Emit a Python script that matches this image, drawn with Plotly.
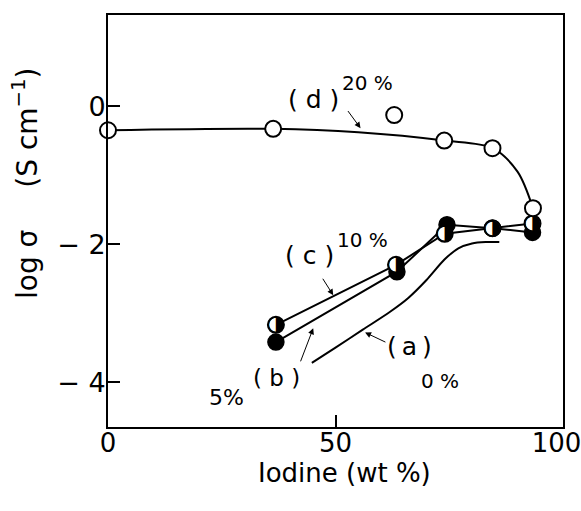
import plotly.graph_objects as go

# ---- data ----
# (d) 20 % : open circles
d_x = [0, 36.3, 62.9, 73.9, 84.5, 93.4]
d_y = [-0.35, -0.33, -0.13, -0.50, -0.61, -1.48]
# smooth curve drawn through (d)
d_curve_x = [0, 36.3, 55, 73.9, 84.5, 90.0, 93.4]
d_curve_y = [-0.35, -0.33, -0.38, -0.50, -0.61, -0.95, -1.48]

# (c) 10 % : half-filled circles
c_x = [36.9, 63.3, 74.0, 84.5, 93.3]
c_y = [-3.17, -2.30, -1.85, -1.77, -1.70]

# (b) 5 % : filled circles
b_x = [36.9, 63.5, 74.5, 84.5, 93.3]
b_y = [-3.42, -2.40, -1.72, -1.77, -1.83]

# (a) 0 % : curve only
a_x = [44.8, 50, 56, 62, 66, 70, 74, 77, 80, 83, 86]
a_y = [-3.72, -3.50, -3.24, -2.98, -2.78, -2.52, -2.22, -2.06, -1.99, -1.97, -1.97]

x_ticks = [0, 50, 100]
x_ticklabels = ["0", "50", "100\u2002"]
y_ticks = [0, -2, -4]
y_ticklabels = ["0", "\u2212 2", "\u2212 4"]

FONT = "DejaVu Sans, Liberation Sans, sans-serif"
BLACK = "black"

fig = go.Figure()

# curve (a)
fig.add_trace(go.Scatter(x=a_x, y=a_y, mode="lines", line=dict(color=BLACK, width=2, shape="spline", smoothing=0.8),
                         hoverinfo="skip", showlegend=False))
# line (b)
fig.add_trace(go.Scatter(x=b_x, y=b_y, mode="lines", line=dict(color=BLACK, width=2), showlegend=False))
# line (c)
fig.add_trace(go.Scatter(x=c_x, y=c_y, mode="lines", line=dict(color=BLACK, width=2), showlegend=False))
# curve (d)
fig.add_trace(go.Scatter(x=d_curve_x, y=d_curve_y, mode="lines",
                         line=dict(color=BLACK, width=2, shape="spline", smoothing=0.9), showlegend=False))

# markers (b): filled
fig.add_trace(go.Scatter(x=b_x, y=b_y, mode="markers",
                         marker=dict(symbol="circle", size=16, color=BLACK, line=dict(color=BLACK, width=1.5)),
                         showlegend=False))
# markers (c): half filled (white base + half-black glyph)
fig.add_trace(go.Scatter(x=c_x, y=c_y, mode="markers",
                         marker=dict(symbol="circle", size=16, color="white", line=dict(color=BLACK, width=2)),
                         showlegend=False))
fig.add_trace(go.Scatter(x=c_x, y=c_y, mode="text", text=["\u25D1"] * len(c_x),
                         textposition="middle center",
                         textfont=dict(family="DejaVu Sans", size=21, color=BLACK), showlegend=False))
# markers (d): open
fig.add_trace(go.Scatter(x=d_x, y=d_y, mode="markers",
                         marker=dict(symbol="circle", size=16, color="white", line=dict(color=BLACK, width=2)),
                         showlegend=False, cliponaxis=False))

annotations = []
def label(x, y, text, size):
    annotations.append(dict(x=x, y=y, xref="x", yref="y", text=text, showarrow=False,
                            font=dict(family=FONT, size=size, color=BLACK), xanchor="center", yanchor="middle"))

def arrow(x_head, y_head, x_tail, y_tail):
    annotations.append(dict(x=x_head, y=y_head, ax=x_tail, ay=y_tail, xref="x", yref="y", axref="x", ayref="y",
                            text="", showarrow=True, arrowhead=2, arrowsize=1.2, arrowwidth=1, arrowcolor=BLACK))

label(45.1, 0.10, "( d )", 25)
label(57.0, 0.33, "20 %", 20)
label(44.2, -2.16, "( c )", 25)
label(56.0, -1.94, "10 %", 20)
label(37.1, -3.94, "( b )", 23)
label(26.0, -4.22, "5%", 22)
label(66.2, -3.48, "(\u2009a\u2009)", 25)
label(72.9, -3.99, "0 %", 20)

arrow(55.5, -0.32, 52.5, -0.05)
arrow(49.5, -2.74, 47.0, -2.48)
arrow(45.1, -3.22, 42.2, -3.72)
arrow(56.5, -3.28, 61.3, -3.43)

# axis titles as paper annotations
annotations.append(dict(x=-0.18, y=0.59, xref="paper", yref="paper",
                        text="log \u03c3\u2003\u2002(S cm<sup>\u22121</sup>)",
                        textangle=-90, showarrow=False, font=dict(family=FONT, size=28, color=BLACK),
                        xanchor="center", yanchor="middle"))
annotations.append(dict(x=0.52, y=-0.112, xref="paper", yref="paper", text="Iodine (wt %)",
                        showarrow=False, font=dict(family=FONT, size=26, color=BLACK),
                        xanchor="center", yanchor="middle"))

fig.update_layout(
    width=581, height=511,
    margin=dict(l=108, r=18, t=15, b=84),
    paper_bgcolor="white", plot_bgcolor="white",
    showlegend=False,
    annotations=annotations,
    font=dict(family=FONT, color=BLACK),
)
fig.update_xaxes(range=[0, 100], tickvals=x_ticks, ticktext=x_ticklabels, ticks="inside", ticklen=12,
                 tickwidth=1.5, tickcolor=BLACK, showgrid=False, zeroline=False, showline=True, linecolor=BLACK,
                 linewidth=2, mirror=True, tickfont=dict(family=FONT, size=26, color=BLACK),
                 ticklabeloverflow="allow", ticklabelstandoff=-8, automargin=False)
fig.update_yaxes(range=[-4.65, 1.32], tickvals=y_ticks, ticktext=y_ticklabels, ticks="inside", ticklen=12,
                 tickwidth=1.5, tickcolor=BLACK, showgrid=False, zeroline=False, showline=True, linecolor=BLACK,
                 linewidth=2, mirror=True, tickfont=dict(family=FONT, size=27, color=BLACK),
                 ticklabelstandoff=-5, automargin=False)

fig.write_html("out.html", config={"displayModeBar": False},
               post_script="document.body.style.margin='0';document.body.style.padding='0';")
